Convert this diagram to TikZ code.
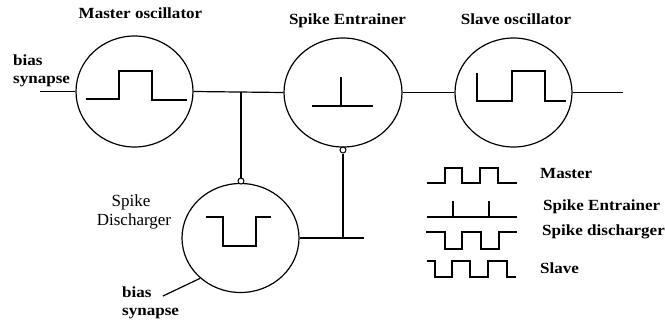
\documentclass[tikz,border=0pt]{standalone}
\usepackage{fontspec}
\setmainfont{Liberation Serif}
\newfontfamily\wideserif[FakeStretch=1.1]{Liberation Serif}
\usetikzlibrary{shapes.geometric}
\tikzset{
  osc/.style={draw, ellipse, line width=1.2pt, inner sep=0pt, minimum width=117pt, minimum height=109pt},
  wire/.style={line width=1.2pt},
  wave/.style={line width=1.4pt},
  knob/.style={draw, circle, line width=1pt, inner sep=0pt, minimum size=6pt, fill=white},
  title/.style={inner sep=0pt, anchor=base, font=\wideserif\bfseries\fontsize{15.5}{18}\selectfont},
  blabel/.style={inner sep=0pt, anchor=base west, font=\wideserif\bfseries\fontsize{15.5}{18}\selectfont},
  rlabel/.style={inner sep=0pt, anchor=base, font=\fontsize{17}{19}\selectfont}
}
\begin{document}
\begin{tikzpicture}[x=1pt, y=-1pt]
\useasboundingbox (0,0) rectangle (665,322);
% oscillators
\node[osc, minimum height=111pt] (master) at (134.5,91.5) {};
\node[osc, minimum width=118pt] (entr) at (343,92.5) {};
\node[osc] (slave) at (513.5,92.5) {};
\node[osc] (dis) at (240.5,238) {};
% titles
\node[title] (tmaster) at (140.5,18) {Master oscillator};
\node[title] (tentr) at (347.5,24) {Spike Entrainer};
\node[title] (tslave) at (516,24) {Slave oscillator};
\node[rlabel] (tspike) at (131,206) {Spike};
\node[rlabel] (tdis) at (134,225) {Discharger};
\node[blabel] (b1) at (13,65) {bias};
\node[blabel] (s1) at (13,83) {synapse};
\node[blabel] (b2) at (122,297) {bias};
\node[blabel] (s2) at (122,315) {synapse};
% connectors
\coordinate (inL) at (40,91.5);
\coordinate (outR) at (623,92.5);
\draw[wire] (inL) -- (master.west);
\draw[wire] (master.east) -- (entr.west);
\draw[wire] (entr.east) -- (slave.west);
\draw[wire] (slave.east) -- (outR);
\coordinate (j1) at (241,92);
\node[knob] (k1) at (241,181) {};
\draw[wire] (j1) -- (k1.north);
\node[knob] (k2) at (343,150) {};
\coordinate (j2) at (343,238);
\coordinate (outD) at (364,238);
\draw[wire] (k2.south) -- (j2);
\draw[wire] (dis.east) -- (outD);
\coordinate (inD) at (163,296);
\draw[wire] (inD) -- (dis.225);
% waveforms inside
\draw[wave] (86,99) -- (119,99) -- (119,71) -- (152,71) -- (152,100) -- (187,100);
\draw[wave] (312,106) -- (373,106);
\draw[wave] (341,77) -- (341,106);
\draw[wave] (477,73) -- (477,101) -- (512,101) -- (512,71) -- (545,71) -- (545,101) -- (566,101);
\draw[wave] (206,217) -- (223,217) -- (223,246) -- (256,246) -- (256,217) -- (271,217);
% legend
\draw[wave] (427,183) -- (445,183) -- (445,168) -- (462,168) -- (462,183) -- (480,183) -- (480,168) -- (498,168) -- (498,183) -- (517,183);
\draw[wave] (427,217) -- (517,217);
\draw[wave] (453,201) -- (453,217);
\draw[wave] (489,201) -- (489,217);
\draw[wave] (426,232) -- (445,232) -- (445,249) -- (462,249) -- (462,232) -- (481,232) -- (481,249) -- (499,249) -- (499,232) -- (517,232);
\draw[wave] (427,261) -- (435,261) -- (435,277) -- (452,277) -- (452,261) -- (470,261) -- (470,277) -- (488,277) -- (488,261) -- (507,261) -- (507,277) -- (516,277);
\node[blabel] (lm) at (540,178) {Master};
\node[blabel] (le) at (543,210) {Spike Entrainer};
\node[blabel] (ld) at (542,235) {Spike discharger};
\node[blabel] (ls) at (540,273) {Slave};
\end{tikzpicture}
\end{document}
